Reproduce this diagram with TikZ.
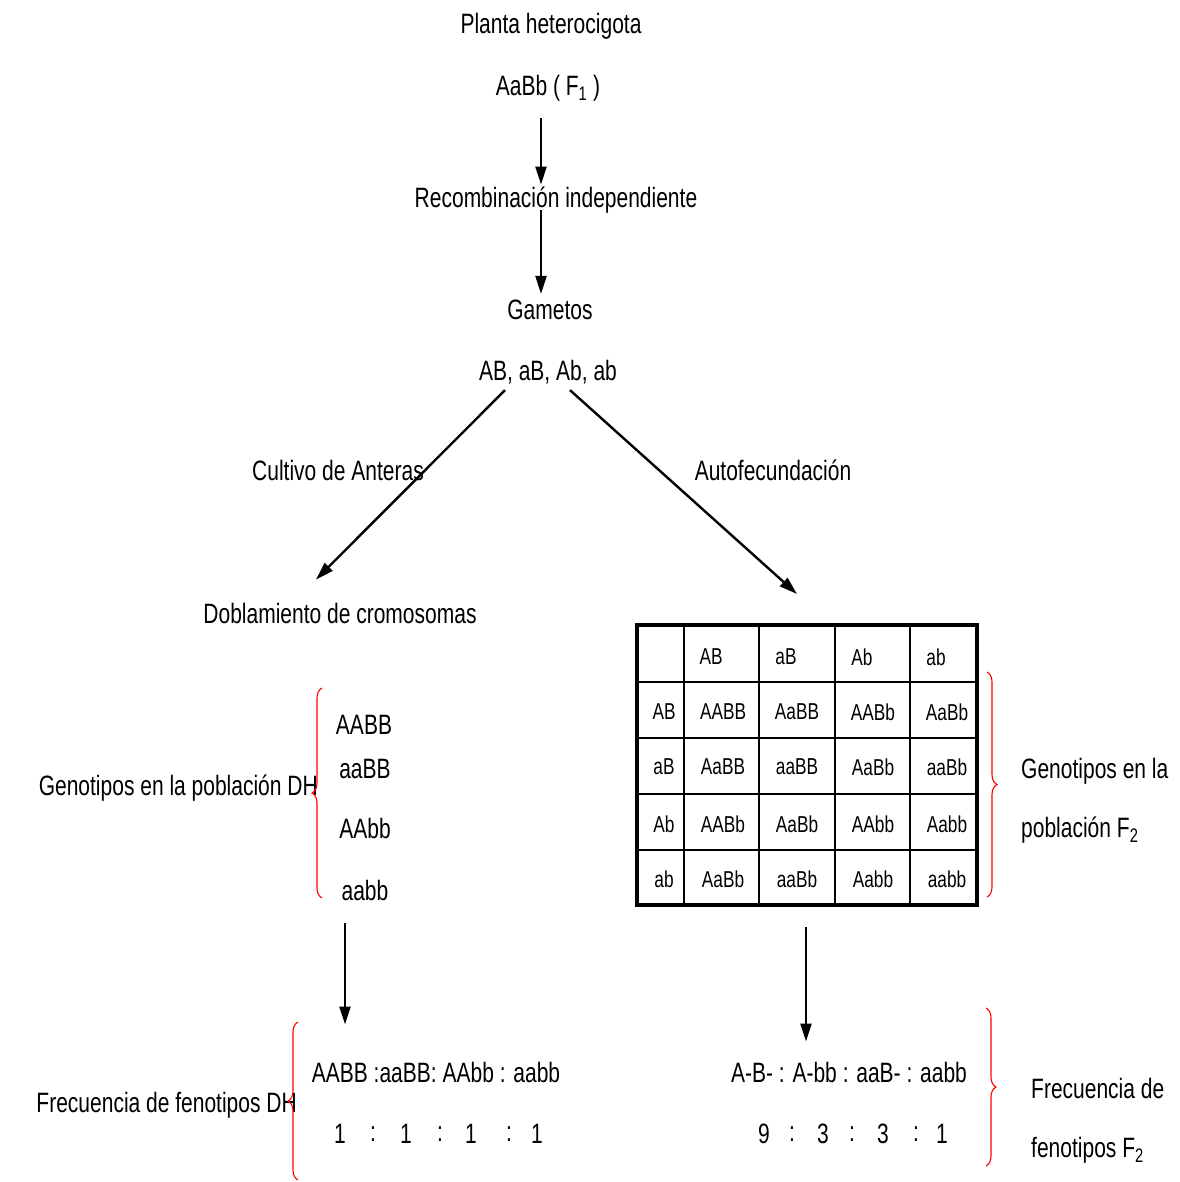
\documentclass[tikz,border=0pt]{standalone}
\usepackage{fontspec}
\setmainfont{Liberation Sans}[FakeStretch=0.75]
\usetikzlibrary{arrows.meta,decorations.pathreplacing}
\begin{document}
\begin{tikzpicture}[x=1pt,y=-1pt,
  txt/.style={inner sep=0pt,font=\fontsize{28}{32}\selectfont},
  cell/.style={inner sep=0pt,font=\fontsize{23}{26}\selectfont},
  arr/.style={line width=2.4pt,-{Triangle[length=18pt,width=11pt]}},
  rbrace/.style={red,line width=1.1pt,decorate,decoration={brace,amplitude=10pt}},
  grid/.style={line width=1.8pt},
  frame/.style={line width=4pt}]
\useasboundingbox (0,0) rectangle (1179,1182);

% top chain
\node[txt] (t1) at (551,26) {Planta heterocigota};
\node[txt] (f1) at (548,88) {AaBb ( F\textsubscript{1} )};
\node[txt] (reco) at (556,200) {Recombinación independiente};
\node[txt] (gam) at (550,310) {Gametos};
\node[txt] (gl) at (548,372) {AB, aB, Ab, ab};
\node[txt] (cult) at (338,470) {Cultivo de Anteras};
\node[txt] (auto) at (773,470) {Autofecundación};
\node[txt] (dobl) at (340,613) {Doblamiento de cromosomas};

% Punnett table
\draw[grid] (684,625) -- (684,905) (759,625) -- (759,905) (835,625) -- (835,905) (910,625) -- (910,905);
\draw[grid] (637,682) -- (977,682) (637,738) -- (977,738) (637,794) -- (977,794) (637,850) -- (977,850);
\node[draw,frame,inner sep=0pt,minimum width=340pt,minimum height=280pt] (tab) at (807,765) {};
\foreach \t/\x in {AB/711,aB/786,Ab/862,ab/936}
  \node[cell] (h\t) at (\x,657) {\t};
\foreach \t/\y [count=\i] in {AB/712,aB/767,Ab/824,ab/879}
  \node[cell] (r\i) at (664,\y) {\t};
\foreach \a/\b/\c/\d/\y [count=\i] in {AABB/AaBB/AABb/AaBb/712,AaBB/aaBB/AaBb/aaBb/767,AABb/AaBb/AAbb/Aabb/824,AaBb/aaBb/Aabb/aabb/879}{
  \node[cell] (c\i1) at (723,\y) {\a};
  \node[cell] (c\i2) at (797,\y) {\b};
  \node[cell] (c\i3) at (873,\y) {\c};
  \node[cell] (c\i4) at (947,\y) {\d};
}

% arrows of the top part
\draw[arr] ([shift={(-7,17)}]f1.south) -- ([shift={(-15,-2)}]reco.north);
\draw[arr] ([shift={(-15,-3)}]reco.south) -- ([shift={(-9,-6)}]gam.north);
\draw[arr] ([shift={(-43,6)}]gl.south) -- ([shift={(-24,-23)}]dobl.north);
\draw[arr] ([shift={(22,6)}]gl.south) -- ([shift={(-10,-29)}]tab.north);

% DH genotypes
\node[txt,anchor=east] (gendh) at (318,788) {Genotipos en la población DH};
\node[txt] (dh1) at (364,725) {AABB};
\node[txt] (dh2) at (365,769) {aaBB};
\node[txt] (dh3) at (365,828) {AAbb};
\node[txt] (dh4) at (365,890) {aabb};
\draw[rbrace] (322,898) -- (322,688);

% F2 genotypes
\draw[rbrace] (987,672) -- (987,897);
\node[txt,anchor=west] (genf2a) at (1021,771) {Genotipos en la};
\node[txt,anchor=west] (genf2b) at (1021,830) {población F\textsubscript{2}};

% DH frequencies
\node[txt,anchor=east] (freqdh) at (297,1105) {Frecuencia de fenotipos DH};
\node[txt] (ratdh) at (436,1072) {AABB :aaBB: AAbb : aabb};
\foreach \t/\x [count=\i] in {1/340,:/373,1/406,:/440,1/471,:/509,1/537}
  \node[txt] (ndh\i) at (\x,1134) {\t};
\draw[rbrace] (298,1180) -- (298,1022);

% F2 frequencies
\node[txt] (ratf2) at (849,1072) {A-B- : A-bb : aaB- : aabb};
\foreach \t/\x [count=\i] in {9/764,:/792,3/823,:/852,3/883,:/916,1/942}
  \node[txt] (nf\i) at (\x,1134) {\t};
\draw[rbrace] (986,1008) -- (986,1166);
\node[txt,anchor=west] (freqf2a) at (1031,1088) {Frecuencia de};
\node[txt,anchor=west] (freqf2b) at (1031,1150) {fenotipos F\textsubscript{2}};

% down arrows
\draw[arr] ([shift={(-20,23)}]dh4.south) -- ([shift={(-91,-37)}]ratdh.north);
\draw[arr] ([shift={(-1,20)}]tab.south) -- ([shift={(-43,-20)}]ratf2.north);
\end{tikzpicture}
\end{document}
